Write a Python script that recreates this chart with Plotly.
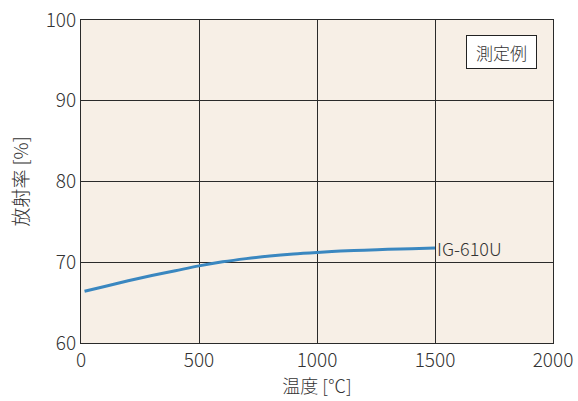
import plotly.graph_objects as go

# Emissivity vs. temperature (measured example)
temperature_c = [15, 100, 200, 300, 400, 500, 600, 700, 800, 900, 1000,
                 1100, 1200, 1300, 1400, 1500]
emissivity_pct = [66.4, 67.0, 67.7, 68.35, 68.95, 69.55, 70.05, 70.45, 70.78,
                  71.03, 71.22, 71.38, 71.5, 71.6, 71.68, 71.75]
series_name = "IG-610U"
x_ticks = [0, 500, 1000, 1500, 2000]
y_ticks = [60, 70, 80, 90, 100]

font_family = "Noto Sans CJK JP, Noto Sans, sans-serif"
text_color = "#333333"

fig = go.Figure()
fig.add_trace(go.Scatter(
    x=temperature_c, y=emissivity_pct, mode="lines",
    line=dict(color="#3a87c0", width=3, shape="spline", smoothing=1.0),
    showlegend=False, hoverinfo="skip",
))

fig.add_annotation(
    x=temperature_c[-1], y=emissivity_pct[-1], text=series_name,
    showarrow=False, xanchor="left", yanchor="middle", xshift=0,
    font=dict(size=18, color=text_color, family=font_family, weight=300),
)
fig.add_annotation(
    x=0.967, y=0.954, xref="paper", yref="paper", text="測定例",
    showarrow=False, xanchor="right", yanchor="top",
    width=69, height=32, align="center", valign="middle",
    font=dict(size=17, color=text_color, family=font_family, weight=300),
    bgcolor="white", bordercolor="#222222", borderwidth=1,
    borderpad=0,
)

axis_common = dict(
    showgrid=True, gridcolor="#2a2a2a", gridwidth=1,
    showline=True, linecolor="#2a2a2a", linewidth=1, mirror=True,
    ticks="", zeroline=False, automargin=False,
    tickfont=dict(size=19, color=text_color, family=font_family, weight=300),
)

fig.update_layout(
    width=578, height=401,
    margin=dict(l=81, r=25, t=20, b=58, autoexpand=False),
    paper_bgcolor="white", plot_bgcolor="#f7efe6",
    xaxis=dict(range=[0, 2000], tickvals=x_ticks,
               title=dict(text="温度 [℃]", standoff=7,
                          font=dict(size=18, color=text_color,
                                    family=font_family, weight=300)),
               **axis_common),
    yaxis=dict(range=[60, 100], tickvals=y_ticks,
               title=dict(text="放射率 [%]", standoff=12,
                          font=dict(size=19, color=text_color,
                                    family=font_family, weight=300)),
               **axis_common),
)

fig.write_html("out.html")
